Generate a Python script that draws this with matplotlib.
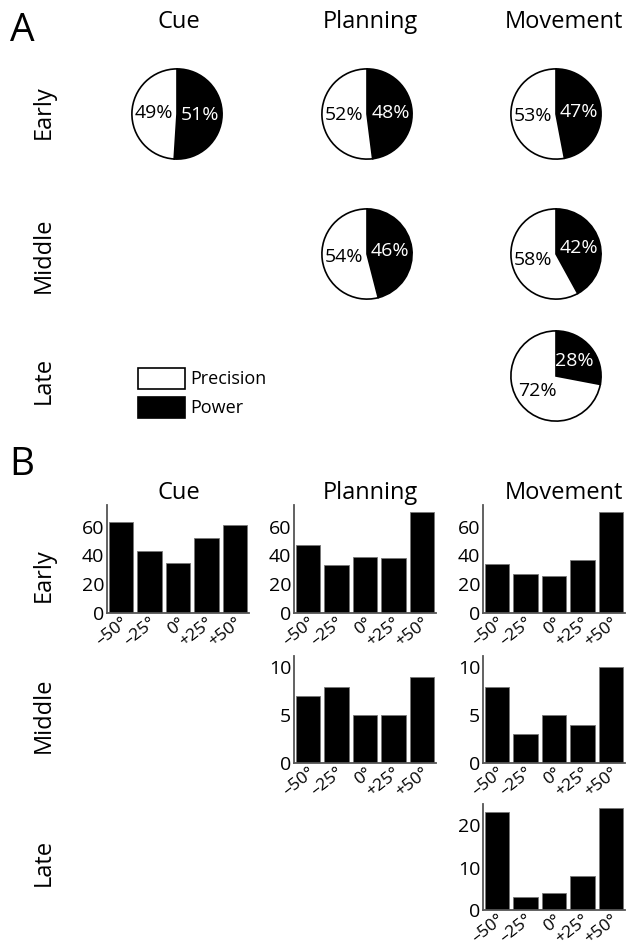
import matplotlib
matplotlib.use("Agg")
import matplotlib.pyplot as plt
from matplotlib.patches import Rectangle

plt.rcParams["font.family"] = ["Open Sans", "DejaVu Sans"]

W, H = 628, 951

phases = ["Cue", "Planning", "Movement"]
stages = ["Early", "Middle", "Late"]
angles = ["\u201350\u00b0", "\u201325\u00b0", "0\u00b0", "+25\u00b0", "+50\u00b0"]

# pie data: (stage, phase) -> precision %, power %
pie_precision = {("Early", "Cue"): 49, ("Early", "Planning"): 52, ("Early", "Movement"): 53,
                 ("Middle", "Planning"): 54, ("Middle", "Movement"): 58,
                 ("Late", "Movement"): 72}
pie_power = {("Early", "Cue"): 51, ("Early", "Planning"): 48, ("Early", "Movement"): 47,
             ("Middle", "Planning"): 46, ("Middle", "Movement"): 42,
             ("Late", "Movement"): 28}

# bar data: counts per target angle
early_cue = [63, 43, 35, 52, 61]
early_planning = [47, 33, 39, 38, 70]
early_movement = [34, 27, 26, 37, 70]
middle_planning = [7, 8, 5, 5, 9]
middle_movement = [8, 3, 5, 4, 10]
late_movement = [23, 3, 4, 8, 24]

bars = {("Early", "Cue"): early_cue, ("Early", "Planning"): early_planning,
        ("Early", "Movement"): early_movement, ("Middle", "Planning"): middle_planning,
        ("Middle", "Movement"): middle_movement, ("Late", "Movement"): late_movement}
bar_ylim = {"Early": (75, [0, 20, 40, 60]), "Middle": (11.2, [0, 5, 10]), "Late": (25, [0, 10, 20])}

fig = plt.figure(figsize=(W / 100, H / 100), dpi=100)


def px_axes(x0, y0, w, h):
    # pixel box (top-left origin) -> figure axes
    return fig.add_axes([x0 / W, 1 - (y0 + h) / H, w / W, h / H])


def fig_text(x, y, s, **kw):
    fig.text(x / W, 1 - y / H, s, **kw)


title_x = [179, 370, 564]
title_size = 17
label_size = 17

# ---- panel A ----
fig_text(22, 31, "A", fontsize=28, ha="center", va="center")
for t, x in zip(phases, title_x):
    fig_text(x, 22, t, fontsize=title_size, ha="center", va="center")
row_y = [112, 255, 380]
for s, y in zip(stages, row_y):
    fig_text(44, y, s, fontsize=label_size, ha="center", va="center", rotation=90)

col_x = [177, 367, 556]
pie_y = [114, 254, 376]
r = 46
for (stage, phase), prec in pie_precision.items():
    cx = col_x[phases.index(phase)]
    cy = pie_y[stages.index(stage)]
    ax = px_axes(cx - r, cy - r, 2 * r, 2 * r)
    wedges, texts, autotexts = ax.pie(
        [pie_power[(stage, phase)], prec], colors=["black", "white"],
        startangle=90, counterclock=False,
        autopct=lambda p: "%d%%" % round(p), pctdistance=0.52,
        wedgeprops=dict(edgecolor="black", linewidth=1.2),
        textprops=dict(fontsize=14))
    autotexts[0].set_color("white")
    autotexts[1].set_color("black")
    ax.set_xlim(-1.02, 1.02)
    ax.set_ylim(-1.02, 1.02)
    ax.set_aspect("equal")

# legend
lax = fig.add_axes([0, 0, 1, 1])
lax.set_xlim(0, W)
lax.set_ylim(H, 0)
lax.axis("off")
lax.add_patch(Rectangle((138, 368), 47, 21, facecolor="white", edgecolor="black", lw=1.2))
lax.add_patch(Rectangle((138, 397), 47, 21, facecolor="black", edgecolor="black", lw=1.2))
lax.text(190, 379, "Precision", fontsize=13, va="center")
lax.text(190, 408, "Power", fontsize=13, va="center")

# ---- panel B ----
fig_text(22, 465, "B", fontsize=28, ha="center", va="center")
for t, x in zip(phases, title_x):
    fig_text(x, 493, t, fontsize=title_size, ha="center", va="center")
brow_y = [575, 715, 862]
for s, y in zip(stages, brow_y):
    fig_text(44, y, s, fontsize=label_size, ha="center", va="center", rotation=90)

bx = [107, 294, 483]
by = [505, 656, 804]
bw = 142
bh = [108, 107, 106]
for (stage, phase), vals in bars.items():
    i = stages.index(stage)
    ax = px_axes(bx[phases.index(phase)], by[i], bw, bh[i])
    ax.bar(range(1, 6), vals, width=0.86, color="black", edgecolor="#777777", linewidth=0.6)
    ymax, yt = bar_ylim[stage]
    ax.set_ylim(0, ymax)
    ax.set_xlim(0.5, 5.5)
    ax.set_yticks(yt)
    ax.set_xticks(range(1, 6))
    ax.set_xticklabels(angles, rotation=38, ha="right", rotation_mode="anchor")
    ax.tick_params(axis="x", length=0, labelsize=12.5, pad=1)
    ax.tick_params(axis="y", length=0, labelsize=14, pad=2)
    for sp in ["top", "right"]:
        ax.spines[sp].set_visible(False)
    for sp in ["left", "bottom"]:
        ax.spines[sp].set_color("#555555")
        ax.spines[sp].set_linewidth(1.3)

fig.savefig("out.png", dpi=100)
